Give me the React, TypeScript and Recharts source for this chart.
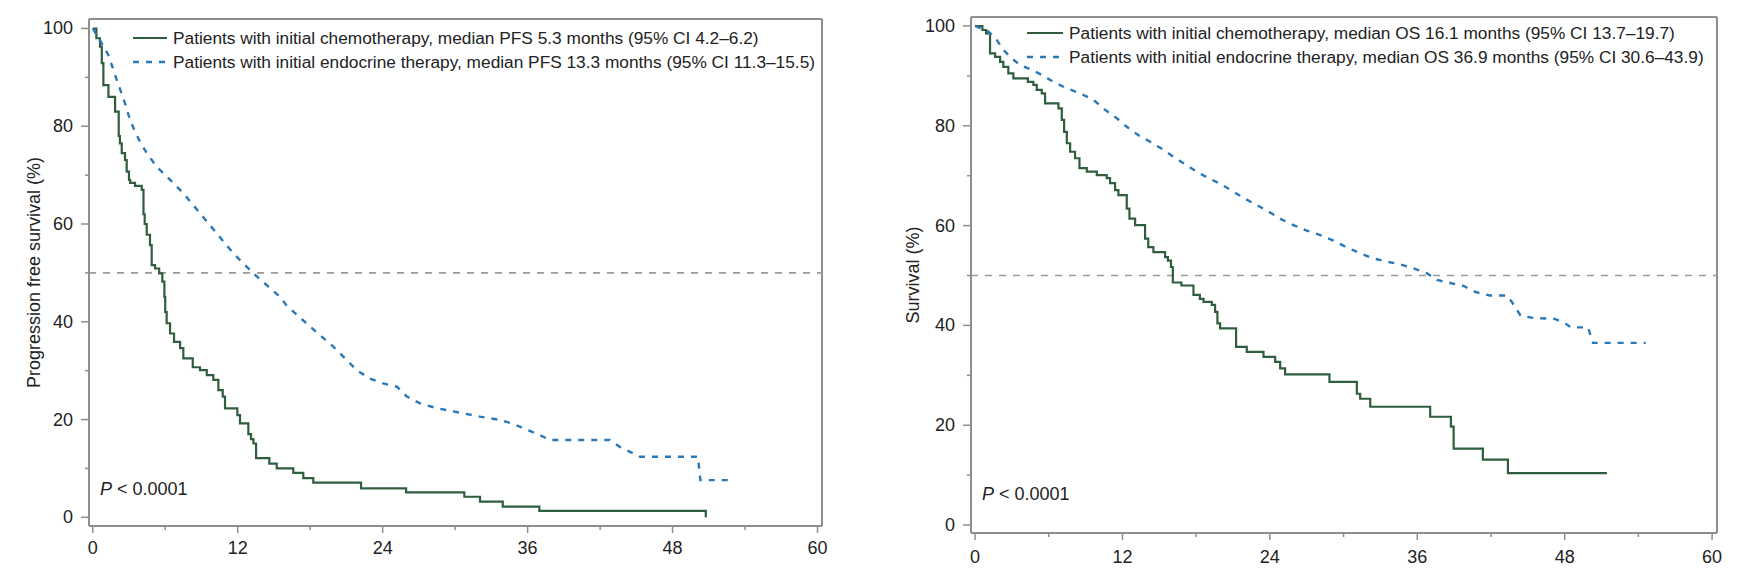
import React from 'react';
import { LineChart, Line, XAxis, YAxis, ReferenceLine } from 'recharts';

// Kaplan-Meier estimates: [month, % event-free]
const pfsChemo: [number, number][] = [
  [0, 100], [0.3, 98], [0.6, 96.3], [0.75, 92.9], [0.88, 88.4], [1.3, 86], [1.85, 83],
  [2.15, 78], [2.25, 76.5], [2.4, 74.5], [2.67, 73.1], [2.81, 70.7], [3.0, 69], [3.1, 68.4],
  [3.5, 67.8], [4.06, 67], [4.2, 62], [4.3, 60], [4.47, 57.8], [4.74, 55.7], [4.88, 51.6],
  [5.16, 50.9], [5.5, 49.9], [5.76, 48.2], [5.93, 45.1], [6.0, 42], [6.12, 39.7], [6.4, 37.6],
  [6.73, 35.9], [7.23, 34.6], [7.5, 32.5], [8.28, 30.7], [8.88, 30.1], [9.44, 29.1],
  [9.98, 28.1], [10.4, 26], [10.76, 24.7], [10.95, 22.3], [11.97, 20.9], [12.19, 19.2],
  [12.88, 17], [13.1, 16], [13.3, 15.1], [13.52, 12.1], [14.62, 11], [15.23, 10], [16.6, 9.1],
  [17.43, 8], [18.26, 7.1], [22.21, 5.9], [25.94, 5.1], [30.76, 4.2], [32.06, 3.2],
  [33.94, 2.2], [36.97, 1.3], [50.75, 0],
];

const pfsEndo: [number, number][] = [
  [0, 100], [0.6, 97.6], [1.29, 94.6], [1.99, 89.5], [2.67, 84.7], [3.09, 81.3], [3.5, 78.9],
  [3.92, 76.8], [4.47, 74.5], [5.3, 71.7], [6.13, 69.7], [7.5, 66.3], [8.88, 62.2],
  [10.26, 58.1], [11.64, 54], [13.3, 49.9], [14.4, 47.5], [15.5, 45.1], [16.06, 43.3],
  [18, 39], [19.92, 34.9], [21.85, 30.1], [23, 28.3], [24.05, 27.4], [25.2, 26.7], [26, 24.7],
  [27.1, 23.3], [28.5, 22.3], [30.4, 21.4], [32.06, 20.6], [33.72, 19.9], [34.82, 19.1],
  [35.93, 17.9], [37.03, 16.8], [37.86, 15.8], [42.8, 15.8], [43.64, 14.4], [44.47, 13.4],
  [45.3, 12.4], [50.1, 12.4], [50.3, 7.6], [52.9, 7.6],
];

const osChemo: [number, number][] = [
  [0, 100], [0.6, 99.2], [0.9, 98.5], [1.22, 94.5], [1.63, 93.8], [2.04, 92.8], [2.3, 91.8],
  [2.71, 90.5], [3.12, 89.5], [4.3, 88.8], [4.75, 88.2], [5.02, 87.2], [5.43, 86.5],
  [5.7, 84.5], [6.79, 83.5], [7.06, 81.2], [7.25, 78.8], [7.47, 76.5], [7.74, 74.8],
  [8.14, 73.5], [8.5, 71.5], [9.1, 70.8], [9.91, 70.1], [10.72, 69.5], [10.99, 68.5],
  [11.4, 67.1], [11.67, 66.1], [12.35, 63.4], [12.57, 61.4], [13.03, 60.1], [13.84, 57.4],
  [14.1, 55.7], [14.52, 54.7], [15.47, 53.7], [15.7, 53], [15.95, 51.7], [16.1, 48.6],
  [16.8, 48], [17.78, 46.1], [18.3, 45.3], [18.6, 44.7], [19.27, 44.1], [19.54, 42.7],
  [19.73, 40.4], [19.95, 39.4], [21.25, 35.7], [22.12, 34.7], [23.48, 33.7], [24.43, 32.7],
  [24.84, 31.4], [25.24, 30.2], [28.85, 28.7], [31.08, 26.3], [31.35, 25.3], [32.17, 23.7],
  [37.05, 21.7], [38.74, 19.7], [38.96, 15.3], [41.34, 13.1], [43.38, 10.4], [51.44, 10.4],
];

const osEndo: [number, number][] = [
  [0, 100], [1.08, 98.9], [1.77, 97.2], [2.3, 95.2], [2.99, 93.5], [3.66, 92.2], [4.61, 91.2],
  [5.43, 90.2], [6.38, 88.8], [7.47, 87.5], [8.55, 86.5], [9.64, 85.2], [10.59, 83.2],
  [11.54, 81.5], [12.35, 79.8], [13.3, 78.1], [14.25, 76.8], [15.2, 75.4], [16.15, 73.8],
  [17.1, 72.3], [18.05, 70.8], [19, 69.5], [19.95, 68.4], [20.9, 67], [21.9, 65.5],
  [22.94, 64.1], [23.9, 62.8], [24.9, 61.3], [25.92, 60.1], [27, 59], [28.1, 58.1],
  [29.18, 57], [30.2, 55.7], [31.3, 54.5], [32.3, 53.5], [33.45, 52.8], [34.5, 52.3],
  [35.6, 51.5], [36.7, 50.6], [37.6, 49.1], [38.68, 48.5], [39.77, 47.9], [40.72, 46.7],
  [41.9, 46], [43.3, 46], [43.7, 44.7], [44.4, 42], [45.4, 41.5], [47.2, 41.3], [48, 40.5],
  [48.5, 39.6], [49.9, 39.6], [50.3, 36.5], [54.6, 36.5],
];

const xTicks = [0, 6, 12, 18, 24, 30, 36, 42, 48, 54, 60];
const yTicks = [0, 10, 20, 30, 40, 50, 60, 70, 80, 90, 100];

const pfsLegend = [
  'Patients with initial chemotherapy, median PFS 5.3 months (95% CI 4.2–6.2)',
  'Patients with initial endocrine therapy, median PFS 13.3 months (95% CI 11.3–15.5)',
];
const osLegend = [
  'Patients with initial chemotherapy, median OS 16.1 months (95% CI 13.7–19.7)',
  'Patients with initial endocrine therapy, median OS 36.9 months (95% CI 30.6–43.9)',
];

const FONT = '"Liberation Sans", Arial, Helvetica, sans-serif';
const TEXT = '#222';
const AXIS_GRAY = '#8e8e8e';
const GREEN = '#2f5e3e';
const BLUE = '#2a78b6';
const DASH = '6 7';

const toRows = (pts: [number, number][]) => pts.map(([t, v]) => ({ t, v }));

const panels = [
  {
    id: 'pfs',
    left: 0,
    width: 860,
    yAxisWidth: 89,
    top: 19,
    right: 38,
    xAxisHeight: 56,
    xDomain: [-0.31, 60.37],
    yDomain: [-1.78, 101.94],
    yLabel: 'Progression free survival (%)',
    yLabelX: 34,
    xLabelGap: 22,
    legendX: 133,
    legendY: [38, 62],
    sampleW: 34,
    pX: 100,
    pY: 489,
    chemo: pfsChemo,
    endo: pfsEndo,
    legend: pfsLegend,
  },
  {
    id: 'os',
    left: 880,
    width: 860,
    yAxisWidth: 91,
    top: 17,
    right: 23,
    xAxisHeight: 49,
    xDomain: [-0.33, 60.4],
    yDomain: [-1.6, 101.8],
    yLabel: 'Survival (%)',
    yLabelX: 33,
    xLabelGap: 24,
    legendX: 1027,
    legendY: [33, 57],
    sampleW: 36,
    pX: 982,
    pY: 494,
    chemo: osChemo,
    endo: osEndo,
    legend: osLegend,
  },
];

const makeXTick = (gap: number) => (props: any) => {
  const { x, y, payload } = props;
  const major = payload.value % 12 === 0;
  return (
    <g>
      <line x1={x} x2={x} y1={y} y2={y + (major ? 7 : 4)} stroke={AXIS_GRAY} strokeWidth={1.5} />
      {major && (
        <text x={x} y={y + gap} textAnchor="middle" dominantBaseline="central" fill={TEXT} fontSize={18} fontFamily={FONT}>
          {payload.value}
        </text>
      )}
    </g>
  );
};

const YTick = (props: any) => {
  const { x, y, payload } = props;
  const major = payload.value % 20 === 0;
  return (
    <g>
      <line x1={x - (major ? 8 : 4)} x2={x} y1={y} y2={y} stroke={AXIS_GRAY} strokeWidth={1.5} />
      {major && (
        <text x={x - 16} y={y} textAnchor="end" dominantBaseline="central" fill={TEXT} fontSize={18} fontFamily={FONT}>
          {payload.value}
        </text>
      )}
    </g>
  );
};

function Panel({ p }: { p: (typeof panels)[number] }) {
  const plotBottom = 582 - p.xAxisHeight;
  const midY = (p.top + plotBottom) / 2;
  return (
    <div style={{ position: 'absolute', left: p.left, top: 0 }}>
      <LineChart width={p.width} height={582} margin={{ top: p.top, right: p.right, bottom: 0, left: 0 }}>
        <XAxis
          type="number"
          dataKey="t"
          domain={p.xDomain}
          ticks={xTicks}
          interval={0}
          allowDataOverflow
          height={p.xAxisHeight}
          tickSize={0}
          tickMargin={0}
          tickLine={false}
          axisLine={{ stroke: AXIS_GRAY, strokeWidth: 2 }}
          tick={makeXTick(p.xLabelGap)}
        />
        <YAxis
          type="number"
          dataKey="v"
          domain={p.yDomain}
          ticks={yTicks}
          interval={0}
          allowDataOverflow
          width={p.yAxisWidth}
          tickSize={0}
          tickMargin={0}
          tickLine={false}
          axisLine={{ stroke: AXIS_GRAY, strokeWidth: 2 }}
          tick={YTick}
          label={{
            content: () => (
              <text
                x={p.yLabelX}
                y={midY}
                transform={`rotate(-90, ${p.yLabelX}, ${midY})`}
                textAnchor="middle"
                dominantBaseline="central"
                fill={TEXT}
                fontSize={18}
                fontFamily={FONT}
              >
                {p.yLabel}
              </text>
            ),
          }}
        />
        <ReferenceLine y={p.yDomain[1]} stroke={AXIS_GRAY} strokeWidth={2} />
        <ReferenceLine x={p.xDomain[1]} stroke={AXIS_GRAY} strokeWidth={2} />
        <ReferenceLine y={50} stroke="#9a9a9a" strokeWidth={1.6} strokeDasharray="7 7" />
        <Line
          data={toRows(p.chemo)}
          dataKey="v"
          type="stepAfter"
          stroke={GREEN}
          strokeWidth={2.2}
          dot={false}
          isAnimationActive={false}
        />
        <Line
          data={toRows(p.endo)}
          dataKey="v"
          type="linear"
          stroke={BLUE}
          strokeWidth={2.4}
          strokeDasharray={DASH}
          dot={false}
          isAnimationActive={false}
        />
      </LineChart>
    </div>
  );
}

function Overlay({ p }: { p: (typeof panels)[number] }) {
  const rowStyle = (cy: number): React.CSSProperties => ({
    position: 'absolute',
    left: p.legendX,
    top: cy - 12,
    height: 24,
    display: 'flex',
    alignItems: 'center',
    whiteSpace: 'nowrap',
    fontFamily: FONT,
    fontSize: 17.3,
    color: TEXT,
  });
  return (
    <>
      {p.legend.map((txt, i) => (
        <div key={txt} style={rowStyle(p.legendY[i])}>
          <svg width={p.sampleW} height={6} style={{ marginRight: 6 }}>
            <line
              x1={0}
              x2={p.sampleW}
              y1={3}
              y2={3}
              stroke={i === 0 ? GREEN : BLUE}
              strokeWidth={i === 0 ? 2.2 : 2.4}
              strokeDasharray={i === 0 ? undefined : DASH}
            />
          </svg>
          <span>{txt}</span>
        </div>
      ))}
      <div
        style={{
          position: 'absolute',
          left: p.pX,
          top: p.pY - 12,
          height: 24,
          lineHeight: '24px',
          fontFamily: FONT,
          fontSize: 18,
          color: TEXT,
          whiteSpace: 'nowrap',
        }}
      >
        <i>P</i> &lt; 0.0001
      </div>
    </>
  );
}

export default function App() {
  return (
    <div style={{ position: 'relative', width: 1762, height: 582, background: '#fff', overflow: 'hidden' }}>
      <style>{'body { margin: 0; }'}</style>
      {panels.map((p) => (
        <Panel key={p.id} p={p} />
      ))}
      {panels.map((p) => (
        <Overlay key={p.id + '-o'} p={p} />
      ))}
    </div>
  );
}
